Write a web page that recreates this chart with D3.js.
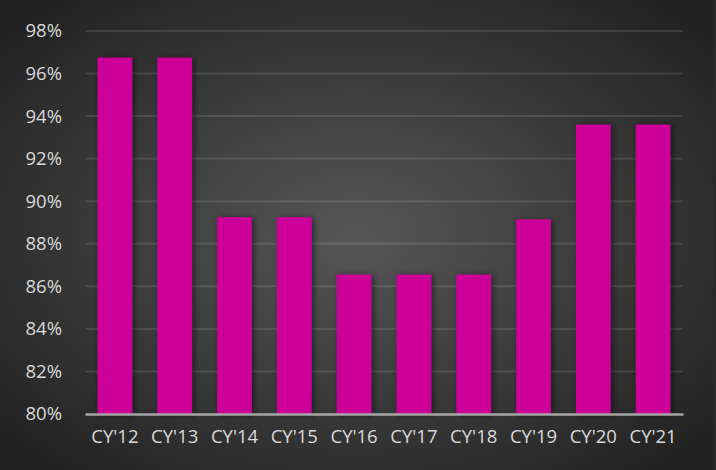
<!DOCTYPE html>
<html>
<head>
<meta charset="utf-8">
<script src="https://cdn.jsdelivr.net/npm/d3@7"></script>
<style>
  body { margin: 0; background: #2a2a2a; }
  svg { display: block; }
</style>
</head>
<body>
<div id="chart"></div>
<script>
// data
const years = ["CY'12", "CY'13", "CY'14", "CY'15", "CY'16", "CY'17", "CY'18", "CY'19", "CY'20", "CY'21"];
const rates = [96.75, 96.75, 89.25, 89.25, 86.55, 86.55, 86.55, 89.15, 93.6, 93.6];
const yTicks = [80, 82, 84, 86, 88, 90, 92, 94, 96, 98];

const width = 716, height = 470;
const margin = {top: 31, right: 33, bottom: 56, left: 85};

const svg = d3.select("#chart").append("svg")
    .attr("width", width)
    .attr("height", height);

const defs = svg.append("defs");

// dark radial background
const bg = defs.append("radialGradient")
    .attr("id", "bg")
    .attr("cx", "50%").attr("cy", "50%").attr("r", "65%");
bg.append("stop").attr("offset", "0%").attr("stop-color", "#575757");
bg.append("stop").attr("offset", "100%").attr("stop-color", "#222222");

// soft shadow next to the bars
const shadow = defs.append("filter")
    .attr("id", "shadow")
    .attr("x", "-50%").attr("y", "-20%").attr("width", "200%").attr("height", "140%");
shadow.append("feDropShadow")
    .attr("dx", 2).attr("dy", 1)
    .attr("stdDeviation", 3)
    .attr("flood-color", "#000")
    .attr("flood-opacity", 0.55);

svg.append("rect")
    .attr("width", 713)
    .attr("height", height)
    .attr("fill", "url(#bg)");

const x = d3.scaleBand()
    .domain(years)
    .range([margin.left, width - margin.right])
    .paddingInner(0.42)
    .paddingOuter(0.21);

const y = d3.scaleLinear()
    .domain([80, 98])
    .range([height - margin.bottom, margin.top]);

// gridlines
svg.append("g")
  .selectAll("line")
  .data(yTicks.slice(1))
  .enter()
  .append("line")
    .attr("x1", margin.left)
    .attr("x2", width - margin.right)
    .attr("y1", d => y(d))
    .attr("y2", d => y(d))
    .attr("stroke", "#ffffff")
    .attr("stroke-opacity", 0.11)
    .attr("stroke-width", 2);

// bars
svg.append("g")
  .selectAll("rect")
  .data(rates)
  .enter()
  .append("rect")
    .attr("x", (d, i) => x(years[i]))
    .attr("y", d => y(d))
    .attr("width", x.bandwidth())
    .attr("height", d => y(80) - y(d))
    .attr("fill", "#cc0099")
    .attr("filter", "url(#shadow)");

// y axis labels
const yAxis = svg.append("g")
    .attr("transform", "translate(" + margin.left + ",0)")
    .call(d3.axisLeft(y).tickValues(yTicks).tickSize(0).tickPadding(23).tickFormat(d => d + "%"));
yAxis.select(".domain").remove();

// x axis
const xAxis = svg.append("g")
    .attr("transform", "translate(0," + y(80) + ")")
    .call(d3.axisBottom(x).tickSize(0).tickPadding(16));
xAxis.select(".domain")
    .attr("stroke", "#a6a6a6")
    .attr("stroke-width", 2.5);

svg.selectAll(".tick text")
    .attr("fill", "#d9d9d9")
    .attr("font-family", "'Open Sans', sans-serif")
    .attr("font-size", "18.5px");
</script>
</body>
</html>
